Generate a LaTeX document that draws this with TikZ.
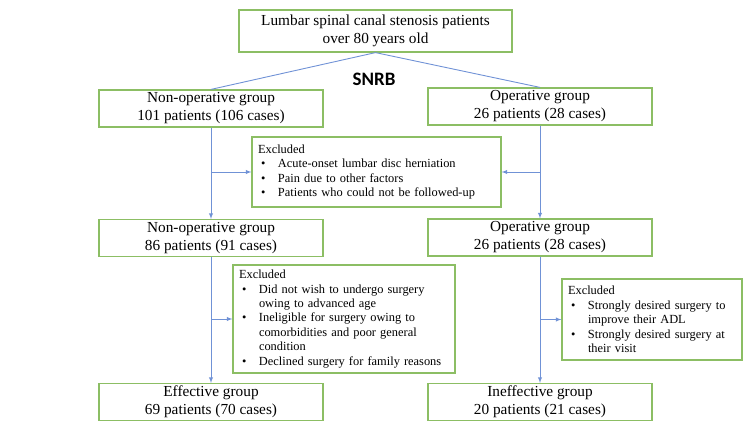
\documentclass[tikz,border=0pt]{standalone}
\usepackage{fontspec}
\setmainfont{Liberation Serif}
\newfontfamily\snrbfont{Carlito}
\usetikzlibrary{positioning,arrows.meta}
\definecolor{boxgreen}{RGB}{140,190,100}
\definecolor{flowblue}{RGB}{112,146,214}
\hyphenpenalty=10000
\newcommand{\xitem}[1]{\par\noindent\hbox to 20pt{\hspace{3pt}\textbullet\hfil}#1}
\newcommand{\xmore}[1]{\par\noindent\hspace*{20pt}#1}

\begin{document}
\begin{tikzpicture}[
            x=1pt, y=-1pt,
            >=latex,
            group/.style={draw=boxgreen, line width=1.2pt, minimum width=224pt, minimum height=37pt, inner sep=0pt, align=center, font=\fontsize{15.3}{18}\selectfont},
            excl/.style={draw=boxgreen, line width=1.2pt, inner xsep=6pt, inner ysep=0pt, font=\fontsize{12.4}{14.4}\selectfont},
            flow/.style={draw=flowblue, line width=0.9pt}
            ]
            \useasboundingbox (0,0) rectangle (750,422);

            \node [group, minimum width=273pt, minimum height=42pt] (patients) at (375.5,31) {Lumbar spinal canal stenosis patients\\over 80 years old};
            \node [group] (nonop1) at (211,108.5) {Non-operative group\\101 patients (106 cases)};
            \node [group] (op1) at (540,106.5) {Operative group\\26 patients (28 cases)};
            \node [group] (nonop2) at (211,238) {Non-operative group\\86 patients (91 cases)};
            \node [group] (op2) at (540,237.5) {Operative group\\26 patients (28 cases)};
            \node [group] (effective) at (211,402) {Effective group\\69 patients (70 cases)};
            \node [group] (ineffective) at (540,402) {Ineffective group\\20 patients (21 cases)};

            \node [excl, text width=237pt, minimum height=70pt] (excl1) at (376.5,172) {\noindent Excluded
                \xitem{Acute-onset lumbar disc herniation}
                \xitem{Pain due to other factors}
                \xitem{Patients who could not be followed-up}};
            \node [excl, text width=210pt, minimum height=108pt] (excl2) at (344,319) {\noindent Excluded
                \xitem{Did not wish to undergo surgery}
                \xmore{owing to advanced age}
                \xitem{Ineligible for surgery owing to}
                \xmore{comorbidities and poor general}
                \xmore{condition}
                \xitem{Declined surgery for family reasons}};
            \node [excl, text width=168pt, minimum height=81pt] (excl3) at (652,319.5) {\noindent Excluded
                \xitem{Strongly desired surgery to}
                \xmore{improve their ADL}
                \xitem{Strongly desired surgery at}
                \xmore{their visit}};

            \node [font=\snrbfont\bfseries\fontsize{19}{22}\selectfont] (snrb) at (374,79) {SNRB};

            \draw[flow] (patients.south) -- (nonop1.north);
            \draw[flow] (patients.south) -- (op1.north);
            \draw[flow,->] (nonop1) -- (nonop2);
            \draw[flow,->] (op1) -- (op2);
            \draw[flow,->] (nonop1 |- excl1.west) -- (excl1.west);
            \draw[flow,->] (op1 |- excl1.east) -- (excl1.east);
            \draw[flow,->] (nonop2) -- (effective);
            \draw[flow,->] (op2) -- (ineffective);
            \draw[flow,->] (nonop2 |- excl2.west) -- (excl2.west);
            \draw[flow,->] (op2 |- excl3.west) -- (excl3.west);
        \end{tikzpicture}
\end{document}
